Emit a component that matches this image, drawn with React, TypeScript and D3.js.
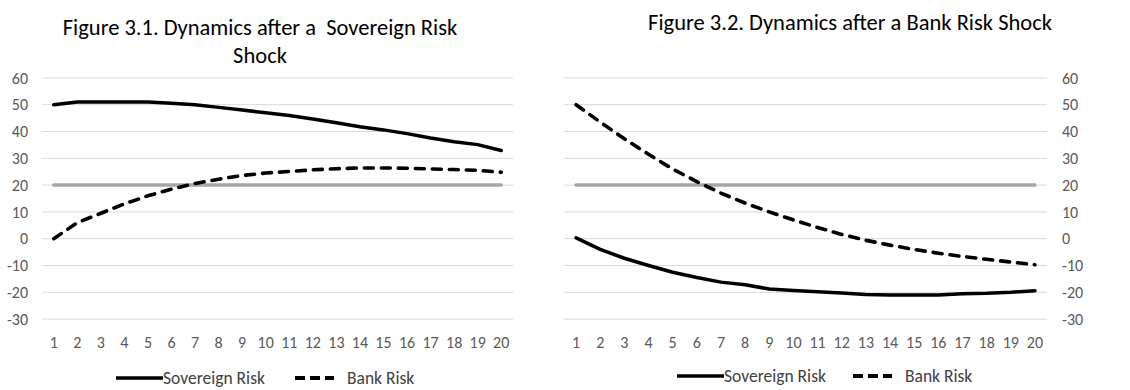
import React from "react";
import * as d3 from "d3";

const periods = ["1","2","3","4","5","6","7","8","9","10","11","12","13","14","15","16","17","18","19","20"];
const yTicks = [60, 50, 40, 30, 20, 10, 0, -10, -20, -30];

// Figure 3.1: Sovereign risk shock
const fig1Sovereign = [50, 51, 51, 51, 51, 50.5, 50, 49, 48, 47, 46, 44.7, 43.3, 41.8, 40.6, 39.2, 37.6, 36.2, 35.1, 32.9];
const fig1Bank = [0, 6, 9.5, 13, 16, 18.5, 20.6, 22.2, 23.6, 24.5, 25.1, 25.7, 26.1, 26.4, 26.4, 26.3, 26, 25.8, 25.5, 24.8];
// Figure 3.2: Bank risk shock
const fig2Sovereign = [0.3, -4, -7.3, -10, -12.5, -14.5, -16.2, -17.2, -18.8, -19.3, -19.8, -20.3, -20.8, -21, -21, -21, -20.5, -20.4, -20, -19.4];
const fig2Bank = [50, 43.5, 37.3, 31.5, 26, 21.3, 17, 13.3, 10, 7, 4.2, 1.6, -0.6, -2.4, -4, -5.4, -6.6, -7.7, -8.7, -9.7];
const reference = [20, 20, 20, 20, 20, 20, 20, 20, 20, 20, 20, 20, 20, 20, 20, 20, 20, 20, 20, 20];

const FONT = "Carlito, Calibri, Lato, sans-serif";

type PanelProps = {
  x0: number;
  x1: number;
  sov: number[];
  bank: number[];
  axisSide: "left" | "right";
  title: string[];
  titleX: number;
  titleY: number;
  legendX: number;
  legendY: number;
  legendGap: number;
};

function Panel({ x0, x1, sov, bank, axisSide, title, titleX, titleY, legendX, legendY, legendGap }: PanelProps) {
  const x = d3.scaleBand<string>().domain(periods).range([x0, x1]).padding(0);
  const y = d3.scaleLinear().domain([-30, 60]).range([319.1, 77.9]);
  const cx = (i: number) => (x(periods[i]) as number) + x.bandwidth() / 2;
  const line = d3.line<number>().x((_, i) => cx(i)).y((v) => y(v));
  return (
    <g>
      {title.map((t, i) => (
        <text key={i} x={titleX} y={titleY + i * 28} textAnchor="middle" fontFamily={FONT} fontSize={22.5} fill="#000" style={{ whiteSpace: "pre" }}>
          {t}
        </text>
      ))}
      {yTicks.map((t) => (
        <g key={t}>
          <line x1={x0} x2={x1} y1={y(t)} y2={y(t)} stroke="#d9d9d9" strokeWidth={1} />
          <text
            x={axisSide === "left" ? x0 - 14 : x1 + 15}
            y={y(t)}
            dy="0.35em"
            textAnchor={axisSide === "left" ? "end" : "start"}
            fontFamily={FONT}
            fontSize={16}
            fill="#595959"
          >
            {t}
          </text>
        </g>
      ))}
      {periods.map((p, i) => (
        <text key={p} x={cx(i)} y={342} dy="0.35em" textAnchor="middle" fontFamily={FONT} fontSize={16} fill="#595959">
          {p}
        </text>
      ))}
      <path d={line(reference) as string} fill="none" stroke="#a6a6a6" strokeWidth={3.5} strokeLinecap="round" />
      <path d={line(sov) as string} fill="none" stroke="#000" strokeWidth={3.5} strokeLinecap="round" strokeLinejoin="round" />
      <path d={line(bank) as string} fill="none" stroke="#000" strokeWidth={3.6} strokeLinecap="round" strokeLinejoin="round" strokeDasharray="9,8" />
      <g transform={`translate(${legendX},${legendY})`}>
        <line x1={0} x2={47} y1={0} y2={0} stroke="#000" strokeWidth={3.5} />
        <text x={47} y={0} dy="0.35em" fontFamily={FONT} fontSize={17.5} fill="#404040">Sovereign Risk</text>
        <line x1={legendGap} x2={legendGap + 39} y1={0} y2={0} stroke="#000" strokeWidth={3.8} strokeDasharray="10,5" />
        <text x={legendGap + 52} y={0} dy="0.35em" fontFamily={FONT} fontSize={17.5} fill="#404040">Bank Risk</text>
      </g>
    </g>
  );
}

export default function App() {
  return (
    <svg width={1130} height={390} style={{ position: "absolute", left: 0, top: 0, background: "#fff" }}>
      <rect width={1130} height={390} fill="#fff" />
      <Panel
        x0={42}
        x1={513}
        sov={fig1Sovereign}
        bank={fig1Bank}
        axisSide="left"
        title={["Figure 3.1. Dynamics after a  Sovereign Risk", "Shock"]}
        titleX={260}
        titleY={35}
        legendX={116}
        legendY={378}
        legendGap={179}
      />
      <Panel
        x0={564}
        x1={1047}
        sov={fig2Sovereign}
        bank={fig2Bank}
        axisSide="right"
        title={["Figure 3.2. Dynamics after a Bank Risk Shock"]}
        titleX={850}
        titleY={30}
        legendX={677}
        legendY={376}
        legendGap={176}
      />
    </svg>
  );
}
